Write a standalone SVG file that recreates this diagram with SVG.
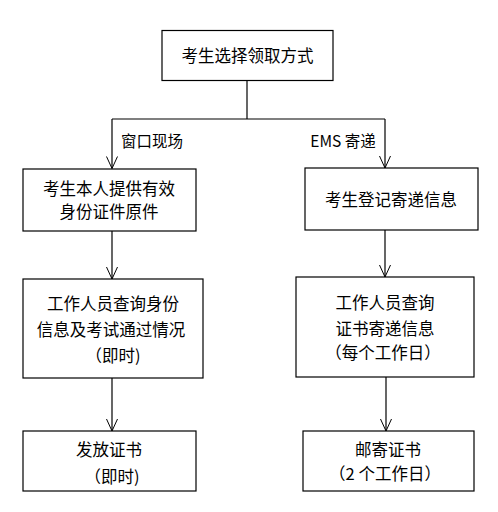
<svg xmlns="http://www.w3.org/2000/svg" width="498" height="512" viewBox="0 0 498 512">
<style>
.box{fill:#fff;stroke:#000;stroke-width:1.2}
.t{font-family:"Noto Sans CJK SC","Noto Sans",sans-serif;font-size:16.5px;fill:#000;text-anchor:middle;dominant-baseline:central}
.lbl{font-family:"Noto Sans CJK SC","Noto Sans",sans-serif;font-size:15.5px;fill:#000;text-anchor:middle;dominant-baseline:central}
.c{fill:none;stroke:#000;stroke-width:1.2}
</style>
<defs>
<marker id="arr" viewBox="0 0 14 12" refX="13" refY="6" markerWidth="14" markerHeight="12" markerUnits="userSpaceOnUse" orient="auto">
<path d="M1,0.5 L13,6 L1,11.5" fill="none" stroke="#000" stroke-width="1"/>
</marker>
</defs>
<g id="connectors">
<path class="c" d="M247,80.5 V119"/>
<path class="c" d="M112,119 H385"/>
<path class="c" d="M112,119 V168.5" marker-end="url(#arr)"/>
<path class="c" d="M385,119 V168" marker-end="url(#arr)"/>
<path class="c" d="M112,231 V279" marker-end="url(#arr)"/>
<path class="c" d="M385,230 V277" marker-end="url(#arr)"/>
<path class="c" d="M112,378 V431" marker-end="url(#arr)"/>
<path class="c" d="M386,377 V431" marker-end="url(#arr)"/>
<text class="lbl" x="152" y="140">窗口现场</text>
<text class="lbl" x="343" y="140">EMS 寄递</text>
</g>
<g id="n1">
<rect class="box" x="162" y="30.5" width="171" height="50"/>
<text class="t" x="247.5" y="55">考生选择领取方式</text>
</g>
<g id="n2">
<rect class="box" x="23" y="169" width="173" height="62"/>
<text class="t" x="109" y="188">考生本人提供有效</text>
<text class="t" x="109" y="211">身份证件原件</text>
</g>
<g id="n3">
<rect class="box" x="305" y="168" width="173" height="62"/>
<text class="t" x="391" y="199">考生登记寄递信息</text>
</g>
<g id="n4">
<rect class="box" x="23" y="279" width="180" height="99"/>
<text class="t" x="113" y="303">工作人员查询身份</text>
<text class="t" x="111" y="329">信息及考试通过情况</text>
<text class="t" x="113" y="355">（即时)</text>
</g>
<g id="n5">
<rect class="box" x="296" y="277" width="178" height="100"/>
<text class="t" x="385" y="302">工作人员查询</text>
<text class="t" x="385" y="328">证书寄递信息</text>
<text class="t" x="383" y="352">（每个工作日）</text>
</g>
<g id="n6">
<rect class="box" x="23" y="431" width="173" height="60"/>
<text class="t" x="109" y="449">发放证书</text>
<text class="t" x="112" y="476">（即时)</text>
</g>
<g id="n7">
<rect class="box" x="303" y="431" width="171" height="60"/>
<text class="t" x="388" y="449">邮寄证书</text>
<text class="t" x="385" y="473">（2 个工作日）</text>
</g>
</svg>
